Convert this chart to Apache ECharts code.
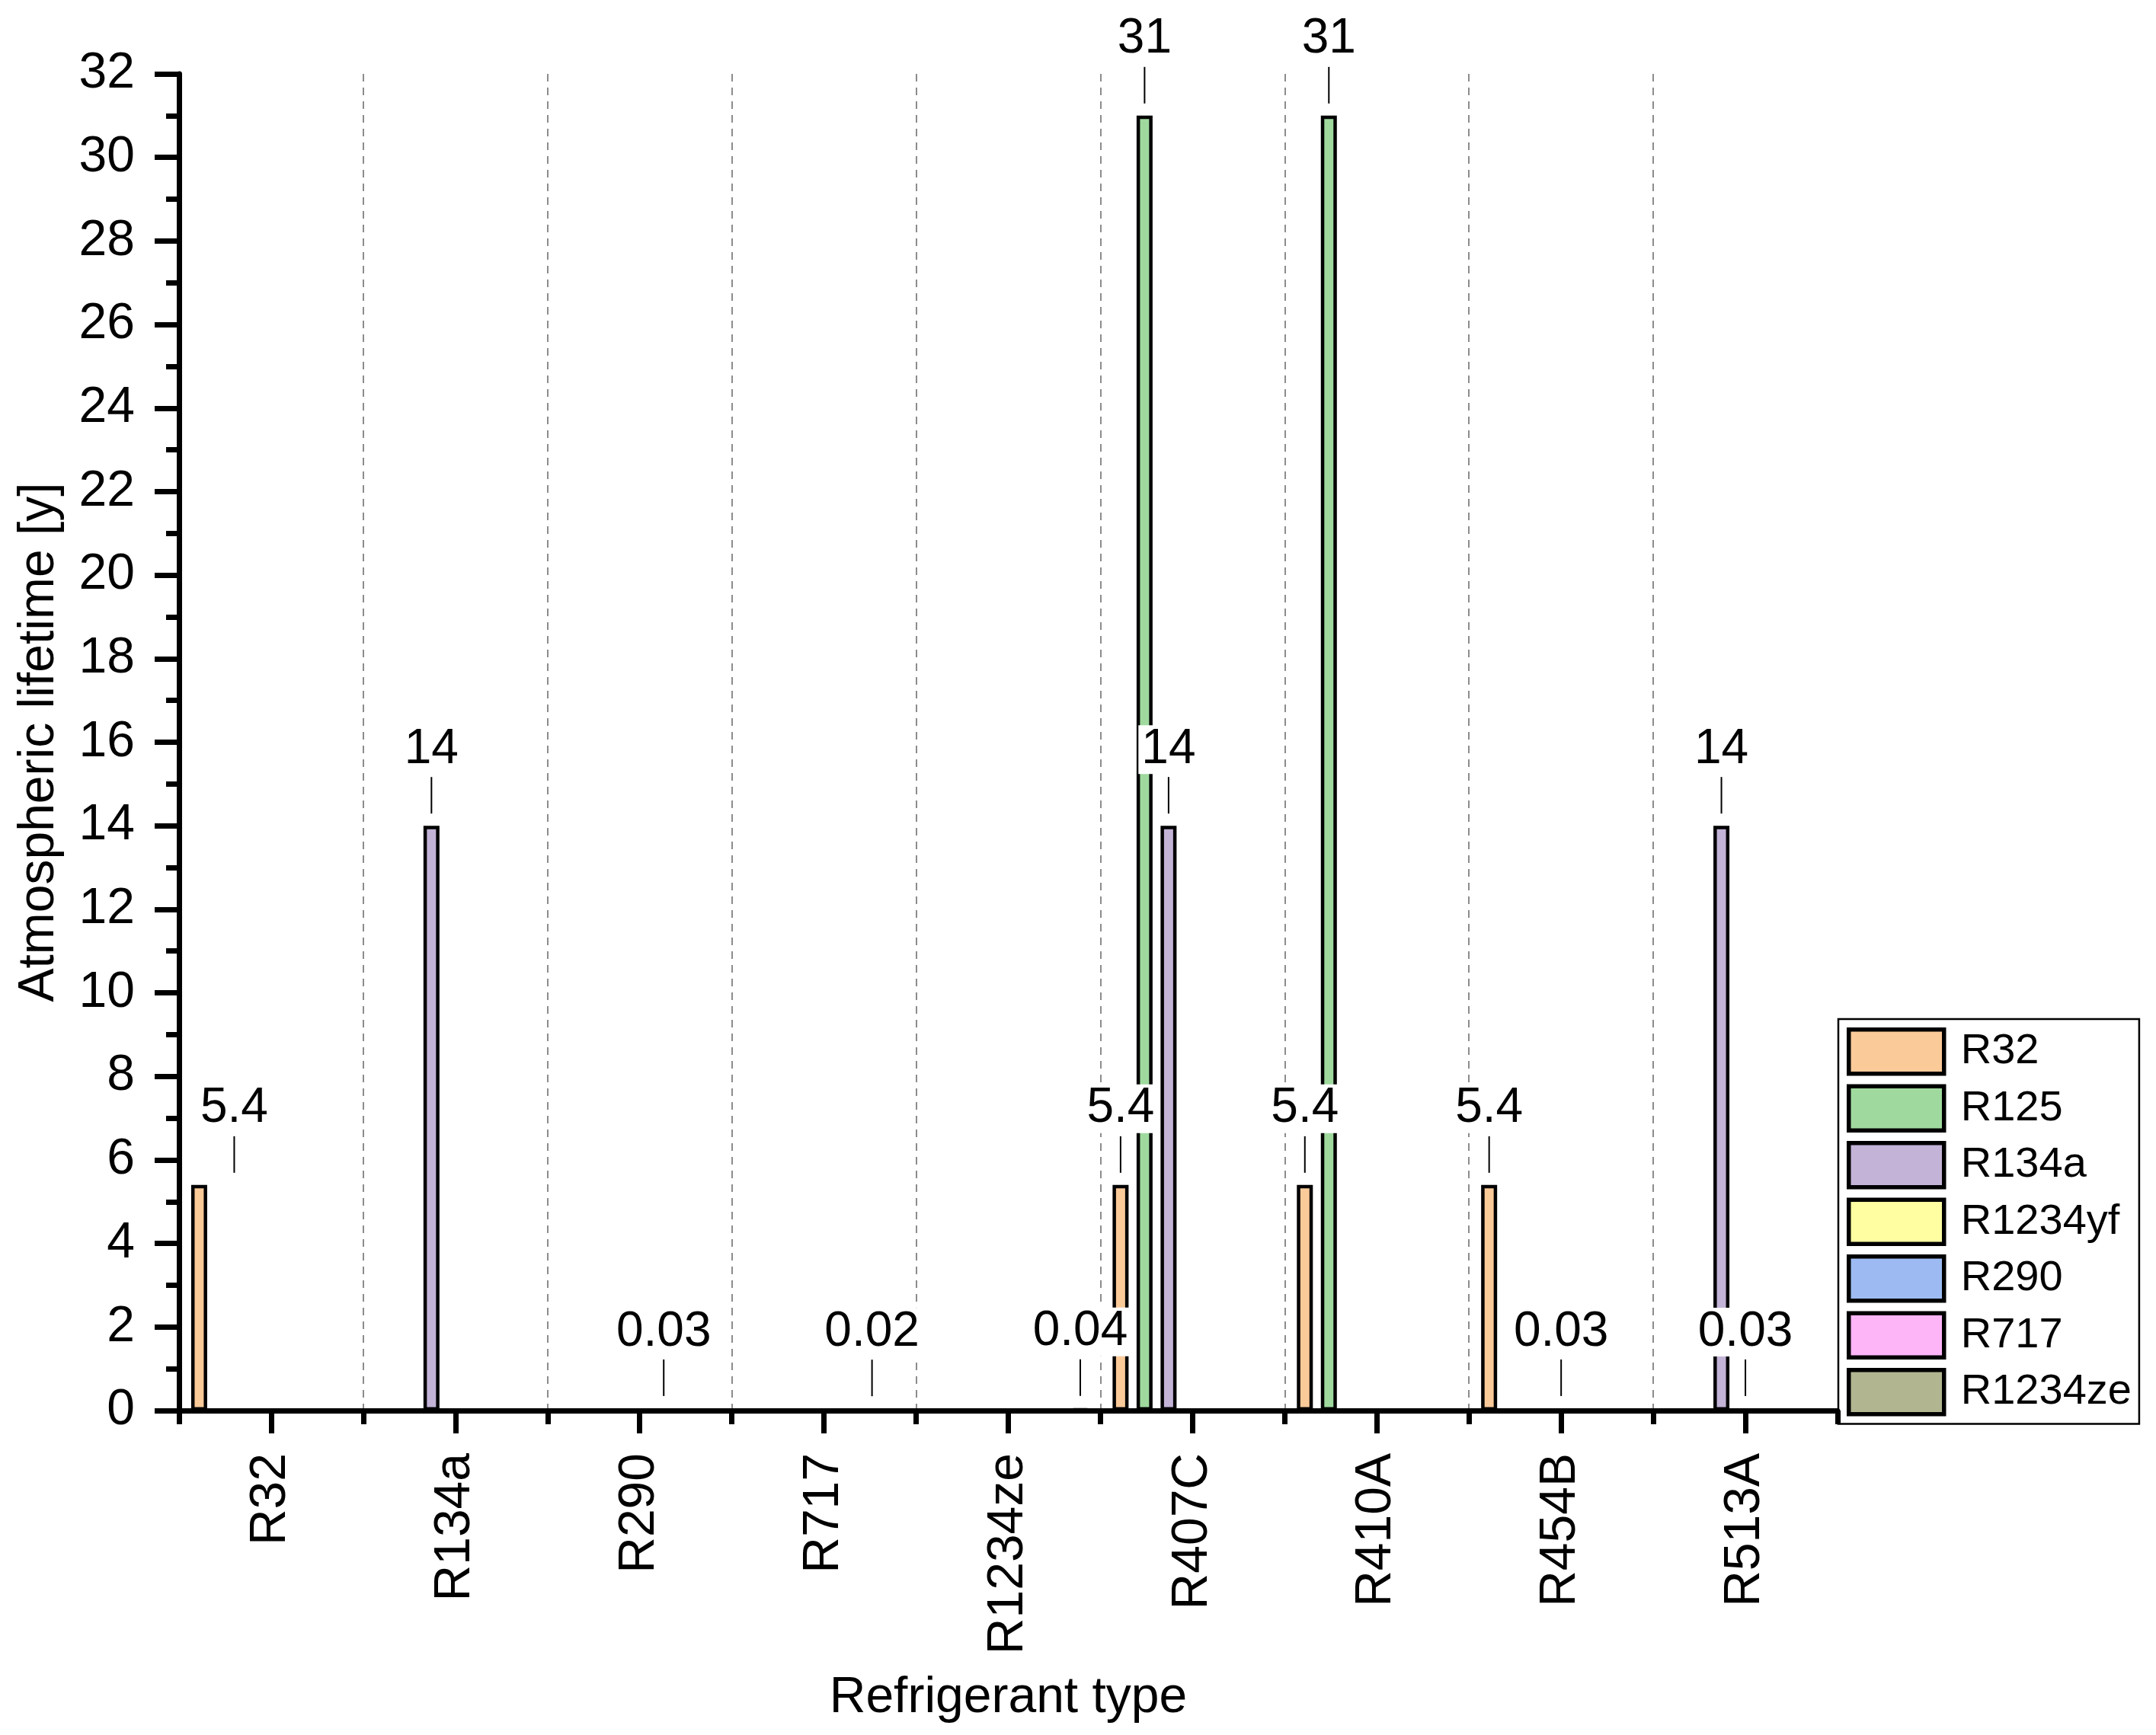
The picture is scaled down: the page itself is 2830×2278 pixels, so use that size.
<!DOCTYPE html>
<html>
<head>
<meta charset="utf-8">
<script src="https://cdn.jsdelivr.net/npm/echarts@6/dist/echarts.min.js"></script>
<style>
html,body{margin:0;padding:0;background:#fff;}
#chart{width:2830px;height:2278px;}
</style>
</head>
<body>
<div id="chart"></div>
<script>
const categories = ['R32','R134a','R290','R717','R1234ze','R407C','R410A','R454B','R513A'];
const seriesNames = ['R32','R125','R134a','R1234yf','R290','R717','R1234ze'];
const r32     = [5.4, null, null, null, null, 5.4, 5.4, 5.4, null];
const r125    = [null, null, null, null, null, 31, 31, null, null];
const r134a   = [null, 14, null, null, null, 14, null, null, 14];
const r1234yf = [null, null, null, null, null, null, null, 0.03, 0.03];
const r290    = [null, null, 0.03, null, null, null, null, null, null];
const r717    = [null, null, null, 0.02, null, null, null, null, null];
const r1234ze = [null, null, null, null, 0.04, null, null, null, null];
const seriesValues = [r32, r125, r134a, r1234yf, r290, r717, r1234ze];
const colors = ['#FBCA99','#9FD99E','#C3B3D7','#FFFFA2','#9DBBF2','#FDB5F8','#B1B691'];
const yTicks = {min: 0, max: 32, interval: 2};

const FONT = 'Liberation Sans, Arial, sans-serif';

const chart = echarts.init(document.getElementById('chart'), null, {renderer: 'canvas'});

const labelCfg = {
  show: true,
  position: 'top',
  distance: 16,
  formatter: p => '{v|' + p.value + '}\n{l| }',
  rich: {
    v: {fontSize: 64, fontFamily: FONT, color: '#000', backgroundColor: '#fff',
        lineHeight: 72, padding: [0, 4, 0, 4], align: 'center'},
    l: {width: 2, height: 48, lineHeight: 48, backgroundColor: '#000', fontSize: 2, align: 'center'}
  }
};

const series = seriesNames.map((name, i) => ({
  name: name,
  type: 'bar',
  xAxisIndex: 0,
  barWidth: 21,
  barGap: '50%',
  itemStyle: {color: colors[i], borderColor: '#000', borderWidth: 4.5},
  label: labelCfg,
  emphasis: {disabled: true},
  data: seriesValues[i].map((v, j) => {
    if (v === null) return null;
    if (i === 0 && j === 0) return {value: v, label: {offset: [46, 0]}};
    return v;
  })
}));

const option = {
  backgroundColor: '#fff',
  animation: false,
  grid: {left: 235, top: 97, right: 418, bottom: 426, containLabel: false},
  legend: {
    orient: 'vertical',
    left: 2413, top: 1338,
    data: seriesNames.map(n => ({name: n, itemStyle: {borderColor: '#000', borderWidth: 5.5}})),
    icon: 'rect',
    itemWidth: 125, itemHeight: 58, itemGap: 11,
    padding: [11, 10, 10, 11],
    borderColor: '#000', borderWidth: 2.5,
    itemStyle: {borderColor: '#000', borderWidth: 5.5},
    textStyle: {fontSize: 56, fontFamily: FONT, color: '#000', lineHeight: 58, padding: [0, 0, 0, 17]},
    selectedMode: false
  },
  xAxis: [
    {
      type: 'category',
      data: categories,
      position: 'bottom',
      name: 'Refrigerant type',
      nameLocation: 'middle',
      nameGap: 345,
      nameTextStyle: {fontSize: 66, fontFamily: FONT, color: '#000'},
      axisLine: {show: true, lineStyle: {color: '#000', width: 7}},
      axisTick: {show: true, alignWithLabel: true, length: 30, lineStyle: {color: '#000', width: 7}},
      axisLabel: {rotate: 90, margin: 56, fontSize: 66, fontFamily: FONT, color: '#000'},
      splitLine: {show: false}
    },
    {
      type: 'category',
      data: categories,
      position: 'bottom',
      axisLine: {show: false},
      axisTick: {show: true, alignWithLabel: false, length: 18, lineStyle: {color: '#000', width: 7}},
      axisLabel: {show: false},
      splitLine: {show: true, showMinLine: false, showMaxLine: false,
                  lineStyle: {color: '#8c8c8c', width: 2, type: [10, 8]}}
    }
  ],
  yAxis: {
    type: 'value',
    min: yTicks.min, max: yTicks.max, interval: yTicks.interval,
    name: 'Atmospheric lifetime [y]',
    nameLocation: 'middle',
    nameGap: 150,
    nameTextStyle: {fontSize: 66, fontFamily: FONT, color: '#000'},
    axisLine: {show: true, lineStyle: {color: '#000', width: 7}},
    axisTick: {show: true, length: 32, lineStyle: {color: '#000', width: 7}},
    minorTick: {show: true, splitNumber: 2, length: 17, lineStyle: {color: '#000', width: 7}},
    axisLabel: {margin: 58, fontSize: 66, fontFamily: FONT, color: '#000'},
    splitLine: {show: false}
  },
  series: series
};

chart.setOption(option);
</script>
</body>
</html>
